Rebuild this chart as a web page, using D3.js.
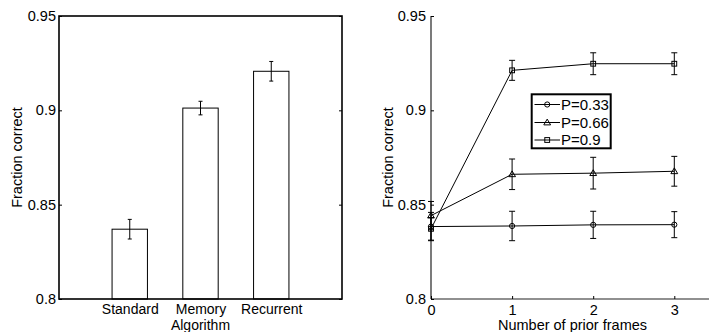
<!DOCTYPE html>
<html><head><meta charset="utf-8">
<script src="https://cdn.jsdelivr.net/npm/d3@7"></script>
<style>
html,body{margin:0;padding:0;background:#fff;}
svg{display:block;font-family:"Liberation Sans",Arial,sans-serif;}
</style></head>
<body>
<svg id="c" width="709" height="332"></svg>
<script>
// ---- Data ----
const barCategories = ["Standard", "Memory", "Recurrent"];
const barValues = [0.837, 0.9012, 0.9207];
const barErrors = [0.0052, 0.0036, 0.0052];
const barXLabel = "Algorithm";
const yLabel = "Fraction correct";
const yTicks = [0.8, 0.85, 0.9, 0.95];
const yTickLabels = ["0.8", "0.85", "0.9", "0.95"];

const frames = [0, 1, 2, 3];
const frameTickLabels = ["0", "1", "2", "3"];
const seriesNames = ["P=0.33", "P=0.66", "P=0.9"];
const seriesMarkers = ["circle", "triangle", "square"];
const p033 = [0.8384, 0.8387, 0.8393, 0.8394];
const p033Err = [0.0075, 0.0078, 0.0072, 0.0069];
const p066 = [0.8442, 0.8661, 0.8667, 0.8677];
const p066Err = [0.0075, 0.0081, 0.0084, 0.0079];
const p09 = [0.8372, 0.9212, 0.9247, 0.9247];
const p09Err = [0.006, 0.0053, 0.0058, 0.0058];
const lineXLabel = "Number of prior frames";

const svg = d3.select("#c");
const FONT = "Liberation Sans";
const FS = 14.5;
const FSX = 14;

// ---- Left panel: bar chart ----
const L = {x0: 59, x1: 342, y0: 16, y1: 299};
const xb = d3.scaleLinear().domain([0, 4]).range([L.x0, L.x1]);
const yb = d3.scaleLinear().domain([0.8, 0.95]).range([L.y1, L.y0]);
const gL = svg.append("g");
const bw = xb(0.5) - xb(0);

gL.selectAll("rect.bar").data(barValues).enter().append("rect")
  .attr("x", (d, i) => xb(i + 1) - bw / 2)
  .attr("y", d => yb(d))
  .attr("width", bw)
  .attr("height", d => yb(0.8) - yb(d))
  .attr("fill", "#fff").attr("stroke", "#000").attr("stroke-width", 1);

barValues.forEach((v, i) => {
  const cx = xb(i + 1), e = barErrors[i];
  const g = gL.append("g").attr("stroke", "#000").attr("stroke-width", 1);
  g.append("line").attr("x1", cx).attr("x2", cx).attr("y1", yb(v + e)).attr("y2", yb(v - e));
  g.append("line").attr("x1", cx - 2).attr("x2", cx + 2).attr("y1", yb(v + e)).attr("y2", yb(v + e));
  g.append("line").attr("x1", cx - 2).attr("x2", cx + 2).attr("y1", yb(v - e)).attr("y2", yb(v - e));
});

gL.append("rect").attr("x", L.x0).attr("y", L.y0).attr("width", L.x1 - L.x0).attr("height", L.y1 - L.y0)
  .attr("fill", "none").attr("stroke", "#000").attr("stroke-width", 1.6);

const ayL = gL.append("g").attr("transform", `translate(${L.x0},0)`)
  .call(d3.axisLeft(yb).tickValues(yTicks).tickFormat((d, i) => yTickLabels[i]).tickSize(-3).tickPadding(3));
ayL.select(".domain").remove();
ayL.selectAll("text").attr("font-size", FS).attr("font-family", FONT).attr("fill", "#000");
ayL.selectAll("line").attr("stroke", "#000");
const ayR = gL.append("g").attr("transform", `translate(${L.x1},0)`)
  .call(d3.axisRight(yb).tickValues(yTicks).tickFormat("").tickSize(-3));
ayR.select(".domain").remove();
ayR.selectAll("line").attr("stroke", "#000");

const gxL = gL.append("g").attr("transform", `translate(0,${L.y1})`)
  .call(d3.axisBottom(xb).tickValues([1, 2, 3]).tickFormat((d, i) => barCategories[i]).tickSize(0).tickPadding(0));
gxL.select(".domain").remove();
gxL.selectAll("text").attr("font-size", FSX).attr("font-family", FONT).attr("fill", "#000")
  .attr("dy", null).attr("y", 314 - L.y1);

gL.append("text").attr("x", xb(2)).attr("y", 329.5).attr("text-anchor", "middle").attr("font-size", FSX).text(barXLabel);
gL.append("text").attr("transform", `translate(22,${(L.y0 + L.y1) / 2}) rotate(-90)`)
  .attr("text-anchor", "middle").attr("font-size", FS).text(yLabel);

// ---- Right panel: line chart ----
const R = {y0: 16, y1: 299};
const xl = d3.scaleLinear().domain([0, 3]).range([431, 674.3]);
const yl = d3.scaleLinear().domain([0.8, 0.95]).range([R.y1, R.y0]);
const gR = svg.append("g");

gR.append("line").attr("x1", xl(0)).attr("x2", xl(3.5)).attr("y1", R.y1).attr("y2", R.y1).attr("stroke", "#222").attr("stroke-width", 1.2);
gR.append("line").attr("x1", xl(0)).attr("x2", xl(0)).attr("y1", R.y0).attr("y2", R.y1).attr("stroke", "#222").attr("stroke-width", 1.2);

const ayL2 = gR.append("g").attr("transform", `translate(${xl(0)},0)`)
  .call(d3.axisLeft(yl).tickValues(yTicks).tickFormat((d, i) => yTickLabels[i]).tickSize(-3).tickPadding(5));
ayL2.select(".domain").remove();
ayL2.selectAll("text").attr("font-size", FS).attr("font-family", FONT).attr("fill", "#000");
ayL2.selectAll("line").attr("stroke", "#000");

const axR2 = gR.append("g").attr("transform", `translate(0,${R.y1})`)
  .call(d3.axisBottom(xl).tickValues(frames).tickFormat((d, i) => frameTickLabels[i]).tickSize(-3).tickPadding(0));
axR2.select(".domain").remove();
axR2.selectAll("text").attr("font-size", FS).attr("font-family", FONT).attr("fill", "#000")
  .attr("dy", null).attr("y", 314.5 - R.y1);
axR2.selectAll("line").attr("stroke", "#000");

gR.append("text").attr("x", 572.5).attr("y", 329.5).attr("text-anchor", "middle").attr("font-size", FS).text(lineXLabel);
gR.append("text").attr("transform", `translate(392.5,${(R.y0 + R.y1) / 2}) rotate(-90)`)
  .attr("text-anchor", "middle").attr("font-size", FS).text(yLabel);

function marker(g, type, cx, cy) {
  if (type === "circle") {
    g.append("circle").attr("cx", cx).attr("cy", cy).attr("r", 2.6).attr("fill", "none").attr("stroke", "#000").attr("stroke-width", 1);
  } else if (type === "triangle") {
    const s = 3.4;
    g.append("path").attr("d", `M${cx},${cy - s}L${cx + s},${cy + s * 0.7}L${cx - s},${cy + s * 0.7}Z`)
      .attr("fill", "none").attr("stroke", "#000").attr("stroke-width", 1);
  } else {
    g.append("rect").attr("x", cx - 2.4).attr("y", cy - 2.4).attr("width", 4.8).attr("height", 4.8)
      .attr("fill", "none").attr("stroke", "#000").attr("stroke-width", 1);
  }
}

const series = [
  {name: seriesNames[0], m: seriesMarkers[0], v: p033, e: p033Err},
  {name: seriesNames[1], m: seriesMarkers[1], v: p066, e: p066Err},
  {name: seriesNames[2], m: seriesMarkers[2], v: p09, e: p09Err}
];
const line = d3.line().x((d, i) => xl(frames[i])).y(d => yl(d));
series.forEach(s => {
  const g = gR.append("g");
  g.append("path").attr("d", line(s.v)).attr("fill", "none").attr("stroke", "#000").attr("stroke-width", 1);
  s.v.forEach((v, i) => {
    const cx = xl(frames[i]), e = s.e[i];
    const eg = g.append("g").attr("stroke", "#000").attr("stroke-width", 1);
    eg.append("line").attr("x1", cx).attr("x2", cx).attr("y1", yl(v + e)).attr("y2", yl(v - e));
    eg.append("line").attr("x1", cx - 3).attr("x2", cx + 3).attr("y1", yl(v + e)).attr("y2", yl(v + e));
    eg.append("line").attr("x1", cx - 3).attr("x2", cx + 3).attr("y1", yl(v - e)).attr("y2", yl(v - e));
    marker(g, s.m, cx, yl(v));
  });
});

// legend
const lg = gR.append("g");
lg.append("rect").attr("x", 531.7).attr("y", 94.3).attr("width", 79).attr("height", 54)
  .attr("fill", "#fff").attr("stroke", "#000").attr("stroke-width", 2);
const legY = [104.5, 122.5, 140];
series.forEach((s, i) => {
  lg.append("line").attr("x1", 534.5).attr("x2", 560).attr("y1", legY[i]).attr("y2", legY[i]).attr("stroke", "#000");
  marker(lg, s.m, 547.2, legY[i]);
  lg.append("text").attr("x", 561).attr("y", legY[i]).attr("dy", "0.36em").attr("font-size", 15).text(s.name);
});
</script>
</body></html>
